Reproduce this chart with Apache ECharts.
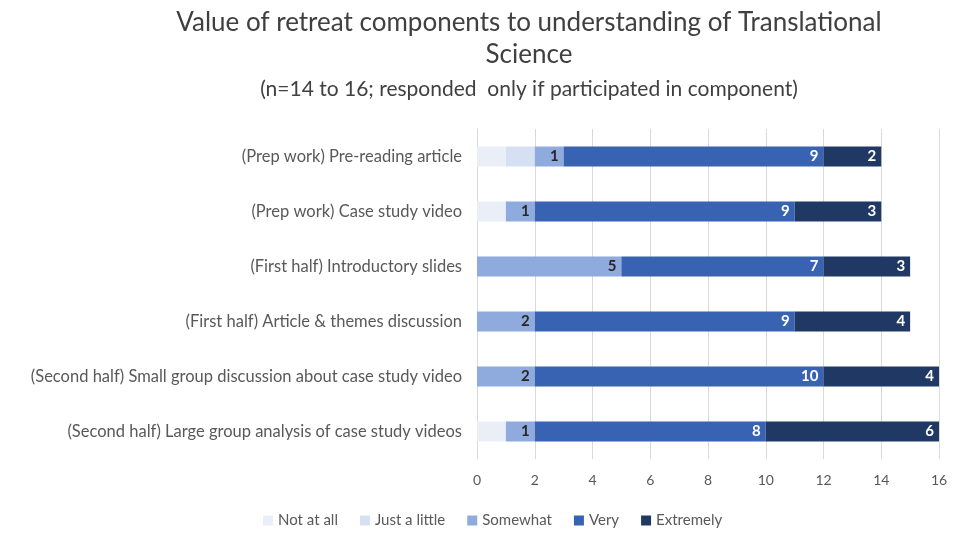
<!DOCTYPE html>
<html>
<head>
<meta charset="utf-8">
<script src="https://cdn.jsdelivr.net/npm/echarts@6/dist/echarts.min.js"></script>
<style>
  html, body { margin: 0; padding: 0; background: #fff; }
  #chart { width: 961px; height: 546px; }
</style>
</head>
<body>
<div id="chart"></div>
<script>
// categories, top to bottom as in the picture
const categories = [
  '(Prep work) Pre-reading article',
  '(Prep work) Case study video',
  '(First half) Introductory slides',
  '(First half) Article & themes discussion',
  '(Second half) Small group discussion about case study video',
  '(Second half) Large group analysis of case study videos'
];
const notAtAll   = [1, 1, 0, 0, 0, 1];
const justALittle = [1, 0, 0, 0, 0, 0];
const somewhat   = [1, 1, 5, 2, 2, 1];
const very       = [9, 9, 7, 9, 10, 8];
const extremely  = [2, 3, 3, 4, 4, 6];
const xTicks = [0, 2, 4, 6, 8, 10, 12, 14, 16];

const colors = ['#E9EEF7', '#D6E0F3', '#8FAADC', '#3763B2', '#203864'];
const fontFam = 'Lato, "Open Sans", sans-serif';

const chart = echarts.init(document.getElementById('chart'));

function makeSeries(name, data, color, showLabel, labelColor) {
  return {
    name: name,
    type: 'bar',
    stack: 'total',
    barWidth: 20,
    data: data.slice().reverse(),
    itemStyle: { color: color },
    label: {
      show: showLabel,
      position: 'insideRight',
      color: labelColor,
      fontSize: 15,
      fontWeight: 'bold',
      fontFamily: fontFam,
      formatter: function (p) { return p.value ? p.value : ''; }
    },
    emphasis: { disabled: true }
  };
}

chart.setOption({
  animation: false,
  title: [
    {
      text: 'Value of retreat components to understanding of Translational\nScience',
      left: 524,
      top: 2,
      textAlign: 'center',
      textStyle: { fontSize: 26, fontWeight: 'normal', color: '#404040', fontFamily: fontFam, lineHeight: 32 }
    },
    {
      text: '(n=14 to 16; responded  only if participated in component)',
      left: 524,
      top: 74,
      textAlign: 'center',
      textStyle: { fontSize: 21, fontWeight: 'normal', color: '#404040', fontFamily: fontFam }
    }
  ],
  legend: {
    bottom: 13,
    left: 258,
    itemWidth: 10,
    itemHeight: 10,
    itemGap: 22,
    icon: 'rect',
    textStyle: { fontSize: 15, color: '#595959', fontFamily: fontFam },
    data: ['Not at all', 'Just a little', 'Somewhat', 'Very', 'Extremely']
  },
  grid: { left: 477, right: 22, top: 129, bottom: 87, containLabel: false },
  xAxis: {
    type: 'value',
    min: 0,
    max: 16,
    interval: 2,
    axisLine: { show: false },
    axisTick: { show: false },
    axisLabel: { fontSize: 14, color: '#595959', fontFamily: fontFam, margin: 14,
      formatter: function (v) { return xTicks.indexOf(v) >= 0 ? v : ''; } },
    splitLine: { lineStyle: { color: '#D9D9D9', width: 1 } }
  },
  yAxis: {
    type: 'category',
    data: categories.slice().reverse(),
    axisLine: { show: true, lineStyle: { color: '#D9D9D9' } },
    axisTick: { show: false },
    axisLabel: { fontSize: 16.5, color: '#595959', fontFamily: fontFam, margin: 15 }
  },
  series: [
    makeSeries('Not at all', notAtAll, colors[0], false, '#000'),
    makeSeries('Just a little', justALittle, colors[1], false, '#000'),
    makeSeries('Somewhat', somewhat, colors[2], true, '#262626'),
    makeSeries('Very', very, colors[3], true, '#fff'),
    makeSeries('Extremely', extremely, colors[4], true, '#fff')
  ]
});
</script>
</body>
</html>
